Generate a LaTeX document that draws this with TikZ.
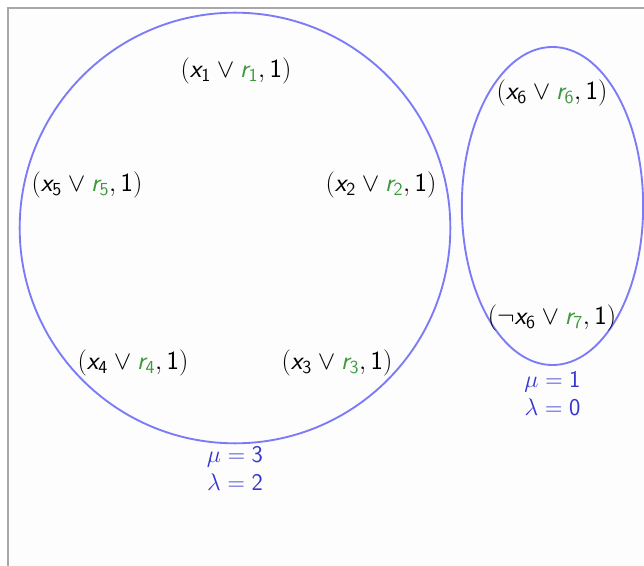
\RequirePackage{fix-cm}
\documentclass[tikz,border=0pt]{standalone}
\usepackage{xcolor}
\usepackage{tikz}
\usetikzlibrary{positioning,shapes.geometric}
% sans letters and digits in math, as on slides
\DeclareSymbolFont{sfletters}{OT1}{cmss}{m}{sl}
\DeclareSymbolFont{sfdigits}{OT1}{cmss}{m}{n}
\DeclareMathSymbol{x}{\mathalpha}{sfletters}{`x}
\DeclareMathSymbol{r}{\mathalpha}{sfletters}{`r}
\DeclareMathSymbol{0}{\mathalpha}{sfdigits}{`0}
\DeclareMathSymbol{1}{\mathalpha}{sfdigits}{`1}
\DeclareMathSymbol{2}{\mathalpha}{sfdigits}{`2}
\DeclareMathSymbol{3}{\mathalpha}{sfdigits}{`3}
\DeclareMathSymbol{4}{\mathalpha}{sfdigits}{`4}
\DeclareMathSymbol{5}{\mathalpha}{sfdigits}{`5}
\DeclareMathSymbol{6}{\mathalpha}{sfdigits}{`6}
\DeclareMathSymbol{7}{\mathalpha}{sfdigits}{`7}
\definecolor{ring}{HTML}{7B7BF7}
\definecolor{rgreen}{HTML}{3C9A3C}
\definecolor{paramc}{HTML}{3535CF}
\definecolor{framec}{HTML}{A8A8A8}
\definecolor{paper}{HTML}{FDFDFD}
\newcommand{\rv}[1]{\textcolor{rgreen}{r_{#1}}}
\tikzset{
  grupo/.style={draw=ring,line width=1.4pt,inner sep=0pt},
  clausula/.style={font=\fontsize{19.7}{22}\selectfont,inner sep=1pt},
  parametros/.style={font=\fontsize{18}{21}\selectfont,text=paramc,align=center,inner sep=1pt},
}
\begin{document}
\begin{tikzpicture}[x=0.75pt,y=-0.75pt]
  \useasboundingbox (0,0) rectangle (644,566);
  \fill[paper] (8,8) rectangle (644,566);
  \draw[framec,line width=1pt] (644,8) -- (8,8) -- (8,566);
  % groups
  \node[grupo,circle,minimum size=323pt] (big) at (235,228) {};
  \node[grupo,ellipse,minimum width=136pt,minimum height=238.5pt] (small) at (552.5,206) {};
  % clauses
  \node[clausula] (c1) at (236,71) {$(x_1 \vee \rv{1}, 1)$};
  \node[clausula] (c5) at (87,185) {$(x_5 \vee \rv{5}, 1)$};
  \node[clausula] (c2) at (381,185) {$(x_2 \vee \rv{2}, 1)$};
  \node[clausula] (c4) at (133,363) {$(x_4 \vee \rv{4}, 1)$};
  \node[clausula] (c3) at (337,363) {$(x_3 \vee \rv{3}, 1)$};
  \node[clausula] (c6) at (552,93) {$(x_6 \vee \rv{6}, 1)$};
  \node[clausula] (c7) at (552,318) {$(\neg x_6 \vee \rv{7}, 1)$};
  % parameters
  \node[parametros,below=1pt of big] (pbig) {$\mu = 3$\\$\lambda = 2$};
  \node[parametros,below=3pt of small] (psmall) {$\mu = 1$\\$\lambda = 0$};
\end{tikzpicture}
\end{document}
